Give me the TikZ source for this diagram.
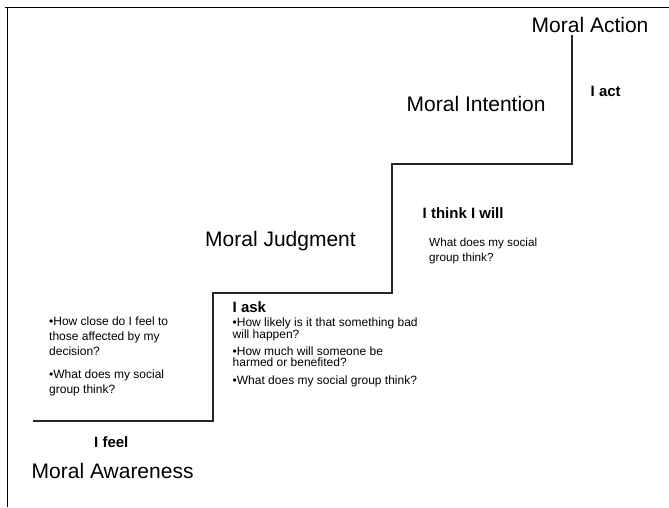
\documentclass[tikz,border=0pt]{standalone}
\usepackage{fontspec}
\setmainfont{Liberation Sans}
\begin{document}
\begin{tikzpicture}[x=1pt, y=-1pt,
	stage/.style={anchor=base west, inner sep=0pt, font=\fontsize{21}{25}\selectfont},
	who/.style={anchor=base west, inner sep=0pt, font=\fontsize{15}{18}\selectfont\bfseries},
	line/.style={anchor=base west, inner sep=0pt, font=\fontsize{12}{14}\selectfont}]
		\useasboundingbox (0,0) rectangle (669,507);
		%frame
		\draw[line width=1pt] (5,7) -- (669,7);
		\draw[line width=1pt] (7,7) -- (7,507);
		
		%stairs
		\draw[line width=1.3pt, black!85] (33,421) -- (213,421) -- (213,293) -- (392,293)
			-- (392,164) -- (572,164) -- (572,35);
		
		%stage names
		\node[stage] (action) at (531.5,32) {Moral Action};
		\node[stage] (intention) at (406.5,111.5) {Moral Intention};
		\node[stage] (judgment) at (205,246.5) {Moral Judgment};
		\node[stage] (awareness) at (31.5,478.5) {Moral Awareness};
		
		\node[who] (act) at (590.5,96.5) {I act};
		\node[who] (will) at (422.5,218) {I think I will};
		\node[who] (ask) at (232.5,312.5) {I ask};
		\node[who] (feel) at (94,447.5) {I feel};
		
		%questions
		\foreach \y/\t [count=\i] in {325/{•How close do I feel to}, 340/{those affected by my},
			355/{decision?}, 378.5/{•What does my social}, 393.5/{group think?}}{
			\node[line] (feel\i) at (49,\y) {\t};
		}
		\foreach \y/\t [count=\i] in {326.5/{•How likely is it that something bad}, 338.5/{will happen?},
			355/{•How much will someone be}, 366.5/{harmed or benefited?},
			384/{•What does my social group think?}}{
			\node[line] (ask\i) at (232.5,\y) {\t};
		}
		\node[line, font=\fontsize{11.7}{14}\selectfont] (will1) at (429,246.5) {What does my social};
		\node[line, font=\fontsize{11.7}{14}\selectfont] (will2) at (429,261.5) {group think?};
\end{tikzpicture}
\end{document}
